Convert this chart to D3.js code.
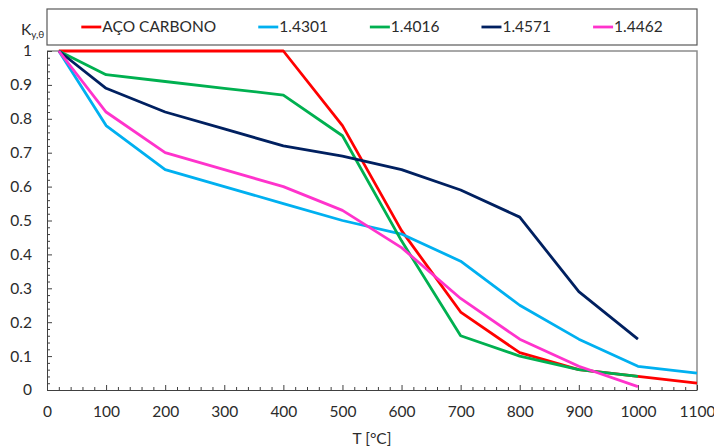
<!DOCTYPE html>
<html>
<head>
<meta charset="utf-8">
<script src="https://cdn.jsdelivr.net/npm/d3@7"></script>
<style>
  html, body { margin: 0; padding: 0; background: #fff; }
  svg { display: block; font-family: Lato, "Open Sans", sans-serif; }
</style>
</head>
<body>
<svg id="chart" width="714" height="448"></svg>
<script>
// Temperatures (°C) and reduction factors k_y,θ per material
const temps = [20, 100, 200, 300, 400, 500, 600, 700, 800, 900, 1000, 1100];
const acoCarbono = [1, 1, 1, 1, 1, 0.78, 0.47, 0.23, 0.11, 0.06, 0.04, 0.02];
const inox14301 = [1, 0.78, 0.65, 0.60, 0.55, 0.50, 0.46, 0.38, 0.25, 0.15, 0.07, 0.05];
const inox14016 = [1, 0.93, 0.91, 0.89, 0.87, 0.75, 0.44, 0.16, 0.10, 0.06, 0.04];
const inox14571 = [1, 0.89, 0.82, 0.77, 0.72, 0.69, 0.65, 0.59, 0.51, 0.29, 0.15];
const inox14462 = [1, 0.82, 0.70, 0.65, 0.60, 0.53, 0.42, 0.27, 0.15, 0.07, 0.01];

const seriesNames = ["AÇO CARBONO", "1.4301", "1.4016", "1.4571", "1.4462"];
const seriesColors = ["#FF0000", "#00B0F0", "#00B050", "#002060", "#FF33CC"];
const seriesValues = [acoCarbono, inox14301, inox14016, inox14571, inox14462];

const xTicks = [0, 100, 200, 300, 400, 500, 600, 700, 800, 900, 1000, 1100];
const yTicks = [0, 0.1, 0.2, 0.3, 0.4, 0.5, 0.6, 0.7, 0.8, 0.9, 1];

const svg = d3.select("#chart");
const plot = { left: 47, right: 697, top: 51, bottom: 390 };

const x = d3.scaleLinear().domain([0, 1100]).range([plot.left, plot.right]);
const y = d3.scaleLinear().domain([0, 1]).range([plot.bottom, plot.top]);

const textColor = "#2b2b2b";

// Plot-area frame (top and right edges)
svg.append("path")
  .attr("d", `M${plot.left},${plot.top}H${plot.right}V${plot.bottom}`)
  .attr("fill", "none")
  .attr("stroke", "#8c8c8c")
  .attr("stroke-width", 1.5);

// Minor ticks
const xMinor = d3.range(0, 1101, 20).filter(v => v % 100 !== 0);
const yMinor = d3.range(0, 51, 1).map(i => i / 50).filter((v, i) => i % 5 !== 0);

const gx = svg.append("g")
  .attr("transform", `translate(0,${plot.bottom})`)
  .call(d3.axisBottom(x).tickValues(xMinor).tickSize(-3).tickFormat(""));
gx.select(".domain").remove();

const gy = svg.append("g")
  .attr("transform", `translate(${plot.left},0)`)
  .call(d3.axisLeft(y).tickValues(yMinor).tickSize(-3).tickFormat(""));
gy.select(".domain").remove();

// Major axes
const xAxis = svg.append("g")
  .attr("transform", `translate(0,${plot.bottom})`)
  .call(d3.axisBottom(x).tickValues(xTicks).tickSize(-5).tickSizeOuter(0).tickPadding(16).tickFormat(d3.format("d")));
const yAxis = svg.append("g")
  .attr("transform", `translate(${plot.left},0)`)
  .call(d3.axisLeft(y).tickValues(yTicks).tickSize(-5).tickSizeOuter(0).tickPadding(15).tickFormat(d => d3.format("")(+d.toFixed(1))));

[xAxis, yAxis, gx, gy].forEach(g => {
  g.selectAll("line").attr("stroke", "#404040");
  g.select(".domain").attr("stroke", "#404040");
  g.selectAll("text").attr("fill", textColor).style("font-size", "15.5px").style("font-family", "Lato, sans-serif");
});

// Series lines
const line = d3.line()
  .x((d, i) => x(temps[i]))
  .y(d => y(d));

seriesValues.forEach((vals, i) => {
  svg.append("path")
    .datum(vals)
    .attr("d", line)
    .attr("fill", "none")
    .attr("stroke", seriesColors[i])
    .attr("stroke-width", 2.8)
    .attr("stroke-linejoin", "round");
});

// Legend
const legend = { left: 47, right: 697, top: 9, bottom: 45 };
svg.append("rect")
  .attr("x", legend.left).attr("y", legend.top)
  .attr("width", legend.right - legend.left)
  .attr("height", legend.bottom - legend.top)
  .attr("fill", "#fff")
  .attr("stroke", "#595959")
  .attr("stroke-width", 1.2);

const legY = (legend.top + legend.bottom) / 2;
const items = svg.append("g");
const widths = [];
seriesNames.forEach((name, i) => {
  const g = items.append("g");
  g.append("line")
    .attr("x1", 0).attr("x2", 20)
    .attr("y1", legY).attr("y2", legY)
    .attr("stroke", seriesColors[i])
    .attr("stroke-width", 2.8);
  const t = g.append("text")
    .attr("x", 21).attr("y", legY)
    .attr("dy", "0.35em")
    .attr("fill", textColor)
    .style("font-size", "15.5px")
    .text(name);
  widths.push(21 + t.node().getComputedTextLength());
});
const gap = 42;
const total = d3.sum(widths) + gap * (widths.length - 1);
let cx = (legend.left + legend.right) / 2 - total / 2;
items.selectAll("g").each(function (d, i) {
  d3.select(this).attr("transform", `translate(${cx},0)`);
  cx += widths[i] + gap;
});

// Axis titles
const yt = svg.append("text")
  .attr("x", 21).attr("y", 35)
  .attr("fill", textColor)
  .style("font-size", "15.5px");
yt.append("tspan").text("K");
yt.append("tspan").attr("dy", 3).style("font-size", "10px").text("y,θ");

svg.append("text")
  .attr("x", (plot.left + plot.right) / 2)
  .attr("y", 444)
  .attr("text-anchor", "middle")
  .attr("fill", textColor)
  .style("font-size", "15.5px")
  .text("T [°C]");
</script>
</body>
</html>
